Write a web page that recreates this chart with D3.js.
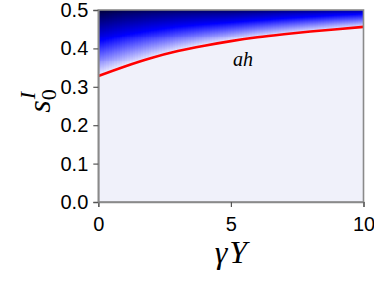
<!DOCTYPE html>
<html>
<head>
<meta charset="utf-8">
<script src="https://cdn.jsdelivr.net/npm/d3@7"></script>
<style>
  body { margin: 0; background: #fff; }
  svg { display: block; }
</style>
</head>
<body>
<svg id="chart" width="374" height="281"></svg>
<script>
// data
var gammaY = [0, 1, 2, 3, 4, 5, 6, 7, 8, 9, 10];
// red boundary curve s0^I(gammaY)
var boundary = [0.328, 0.353, 0.375, 0.393, 0.407, 0.419, 0.429, 0.437, 0.444, 0.450, 0.456];
// level where the shading reaches pure blue
var blueLevel = [0.420, 0.437, 0.449, 0.458, 0.464, 0.469, 0.474, 0.479, 0.483, 0.487, 0.490];
var xTicks = [0, 5, 10];
var yTicks = [0, 0.1, 0.2, 0.3, 0.4, 0.5];
var regionLabel = "ah";

var svg = d3.select("#chart");

var x = d3.scaleLinear().domain([0, 10]).range([98.3, 363.5]);
var y = d3.scaleLinear().domain([0, 0.5]).range([202, 10]);

var bAt = d3.scaleLinear().domain(gammaY).range(boundary);
var blueAt = d3.scaleLinear().domain(gammaY).range(blueLevel);

// colour for relative height above the boundary (1 = pure blue)
var color = d3.scaleLinear()
  .domain([0, 1, 1.9])
  .range(["#f6f6fe", "#0000ff", "#00003a"])
  .clamp(true);

// background below the curve
svg.append("rect")
  .attr("x", x(0)).attr("y", y(0.5))
  .attr("width", x(10) - x(0)).attr("height", y(0) - y(0.5))
  .attr("fill", "#f0f1fa");

// heat cells above the boundary
var dx = 0.1, ds = 0.0025;
var cells = [];
d3.range(0, 10, dx).forEach(function (g) {
  var gm = g + dx / 2;
  var b = bAt(gm), bl = blueAt(gm);
  d3.range(0, 0.5, ds).forEach(function (s) {
    var sm = s + ds / 2;
    if (sm > b) cells.push({ g: g, s: s, v: (sm - b) / (bl - b) });
  });
});

svg.append("g")
  .selectAll("rect")
  .data(cells)
  .enter().append("rect")
  .attr("x", d => x(d.g))
  .attr("y", d => y(d.s + ds))
  .attr("width", x(dx) - x(0) + 0.6)
  .attr("height", y(0) - y(ds) + 0.6)
  .attr("fill", d => color(d.v))
  .attr("shape-rendering", "crispEdges");

// red boundary line
svg.append("path")
  .datum(gammaY.map((g, i) => [g, boundary[i]]))
  .attr("fill", "none")
  .attr("stroke", "#ff0000")
  .attr("stroke-width", 2.6)
  .attr("d", d3.line().x(d => x(d[0])).y(d => y(d[1])).curve(d3.curveMonotoneX));

// frame
svg.append("rect")
  .attr("x", x(0)).attr("y", y(0.5))
  .attr("width", x(10) - x(0)).attr("height", y(0) - y(0.5))
  .attr("fill", "none")
  .attr("stroke", "#8a8a8a")
  .attr("stroke-width", 1.6);

// axes
var xAxis = svg.append("g")
  .attr("transform", "translate(0," + y(0) + ")")
  .call(d3.axisBottom(x).tickValues(xTicks).tickFormat(d3.format("d")).tickSize(5).tickPadding(10));
var yAxis = svg.append("g")
  .attr("transform", "translate(" + x(0) + ",0)")
  .call(d3.axisLeft(y).tickValues(yTicks).tickFormat(d3.format(".1f")).tickSize(5).tickPadding(5));

[xAxis, yAxis].forEach(function (a) {
  a.select(".domain").attr("stroke", "#8a8a8a").attr("stroke-width", 1.6);
  a.selectAll(".tick line").attr("stroke", "#555").attr("stroke-width", 1.2);
  a.selectAll(".tick text")
    .attr("fill", "#000")
    .style("font-family", "'Liberation Sans', Arial, sans-serif")
    .style("font-size", "20px");
});

// region label
svg.append("text")
  .attr("x", 243).attr("y", 66)
  .attr("text-anchor", "middle")
  .style("font-family", "'Liberation Serif', 'DejaVu Serif', serif")
  .style("font-style", "italic")
  .style("font-size", "20px")
  .text(regionLabel);

// x title
var xt = svg.append("text")
  .attr("x", x(5)).attr("y", 263)
  .attr("text-anchor", "middle")
  .style("font-family", "'Liberation Serif', 'DejaVu Serif', serif")
  .style("font-style", "italic")
  .style("font-size", "32px");
xt.append("tspan").text("γ");
xt.append("tspan").attr("dx", 2).text("Y");

// y title
var yt = svg.append("text")
  .attr("transform", "translate(50,101) rotate(-90)")
  .attr("text-anchor", "middle")
  .style("font-family", "'Liberation Serif', 'DejaVu Serif', serif")
  .style("font-size", "32px");
yt.append("tspan").style("font-style", "italic").text("s");
yt.append("tspan").attr("dy", 6).style("font-size", "22px").text("0");
yt.append("tspan").attr("dx", -10).attr("dy", -21).style("font-style", "italic").style("font-size", "22px").text("I");
</script>
</body>
</html>
